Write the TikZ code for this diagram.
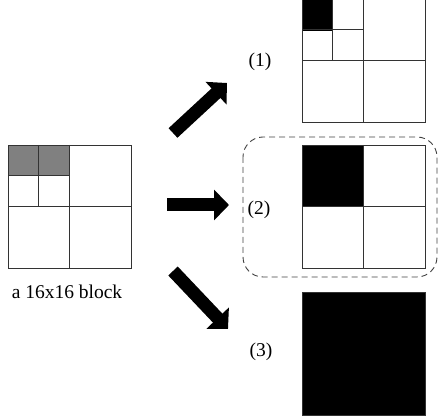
\documentclass[tikz,border=0pt]{standalone}
\usepackage{fontspec}
\setmainfont{Liberation Serif}
\usetikzlibrary{arrows.meta,calc}
\begin{document}
\begin{tikzpicture}[x=1pt,y=-1pt,
  blk/.style={draw=black!80,line width=0.9pt,minimum size=123pt,inner sep=0pt,outer sep=0pt,anchor=north west},
  grid/.style={draw=black!80,line width=0.9pt},
  lbl/.style={font=\fontsize{19.5}{22}\selectfont,inner sep=0pt},
  bigarrow/.style={line width=13pt,-{Triangle[length=15pt,width=30pt]}},
  group/.style={draw=black!75,dash pattern=on 6pt off 4pt,line width=0.9pt,rounded corners=20pt}]
\useasboundingbox (0,0) rectangle (440,419);
% left block
\node[blk] (src) at (8,145) {};
\fill[black!50] (src.north west) rectangle ($(src.north west)!0.5!(src.north east)+(0,31)$);
\draw[grid] (src.north) -- (src.south);
\draw[grid] (src.west) -- (src.east);
\draw[grid] ($(src.north west)+(30.75,0)$) -- ($(src.west)+(30.75,0)$);
\draw[grid] ($(src.north west)+(0,30.75)$) -- ($(src.north)+(0,30.75)$);
\node[blk] (srcb) at (8,145) {};
\node[lbl] (srclbl) at (67,292) {a 16x16 block};
% option 1
\node[blk] (o1) at (302,-1) {};
\fill[black] (o1.north west) rectangle ($(o1.north west)+(30.75,31.75)$);
\draw[grid] (o1.north) -- (o1.south);
\draw[grid] (o1.west) -- (o1.east);
\draw[grid] ($(o1.north west)+(30.75,0)$) -- ($(o1.west)+(30.75,0)$);
\draw[grid] ($(o1.north west)+(0,30.75)$) -- ($(o1.north)+(0,30.75)$);
\node[blk] at (302,-1) {};
\node[lbl] (l1) at (260,62) {(1)};
% option 2
\node[blk] (o2) at (302,145) {};
\fill[black] (o2.north west) rectangle (o2.center);
\draw[grid] (o2.north) -- (o2.south);
\draw[grid] (o2.west) -- (o2.east);
\node[blk] at (302,145) {};
\node[lbl] (l2) at (259,210) {(2)};
\draw[group] (243,137) rectangle (437,277);
% option 3
\node[blk,fill=black] (o3) at (302,292) {};
\node[lbl] (l3) at (261,352) {(3)};
% arrows
\coordinate (a1s) at (173,133);
\coordinate (a1e) at (227,83);
\coordinate (a2s) at (167,205);
\coordinate (a2e) at (229,205);
\coordinate (a3s) at (173,271);
\coordinate (a3e) at (228,329);
\draw[bigarrow] (a1s) -- (a1e);
\draw[bigarrow] (a2s) -- (a2e);
\draw[bigarrow] (a3s) -- (a3e);
\end{tikzpicture}
\end{document}
